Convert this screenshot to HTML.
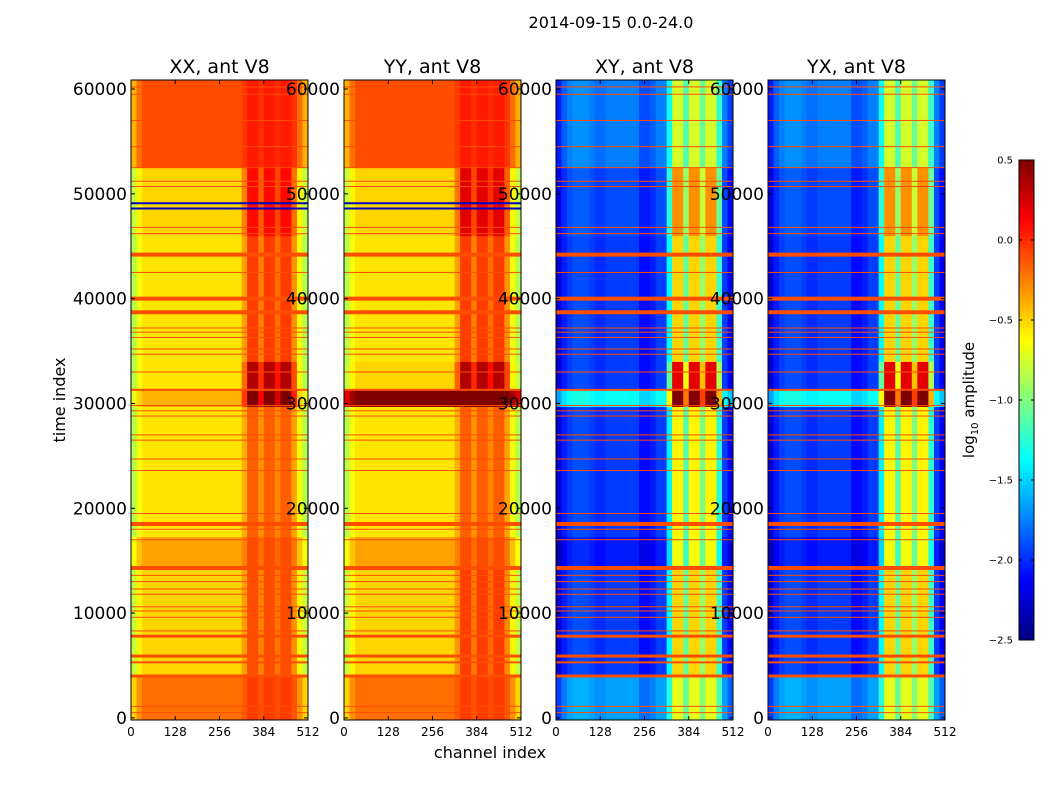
<!DOCTYPE html>
<html><head><meta charset="utf-8">
<style>
html,body{margin:0;padding:0;background:#fff;}
svg{display:block;font-family:"DejaVu Sans","Liberation Sans",sans-serif;}
</style></head>
<body>
<svg id="fig" width="1050" height="800" viewBox="0 0 1050 800" xmlns="http://www.w3.org/2000/svg">
<rect width="1050" height="800" fill="#fff"/>
<text x="611" y="28" font-size="16" text-anchor="middle">2014-09-15 0.0-24.0</text>
<text transform="translate(65,400) rotate(-90)" font-size="16" text-anchor="middle">time index</text>
<text x="490" y="758" font-size="16" text-anchor="middle">channel index</text>
<text transform="translate(974,400) rotate(-90)" font-size="15" text-anchor="middle">log<tspan font-size="10" dy="4">10</tspan><tspan dy="-4"> amplitude</tspan></text>
<g id="panels"></g>
<g id="cbar"></g>
</svg>
<script>
// ---- data ----
const panelTitles = ["XX, ant V8","YY, ant V8","XY, ant V8","YX, ant V8"];
const xTicks = [0,128,256,384,512];
const yTicks = [0,10000,20000,30000,40000,50000,60000];
const cbarTicks = [0.5,0.0,-0.5,-1.0,-1.5,-2.0,-2.5];
// time bands: start, end
const bandStart = [-200,4000,14300,17300,29700,31300,34000,46000,52500];
const bandEnd   = [4000,14300,17300,29700,31300,34000,46000,52500,60860];
// background / hot-band levels per time band for each panel
const xxBg  = [-0.2,-0.5,-0.35,-0.55,-0.4,-0.55,-0.55,-0.5,-0.1];
const xxHot = [-0.05,-0.1,-0.1,-0.15,0.5,0.35,-0.05,0.1,0.05];
const yyBg  = [-0.2,-0.5,-0.35,-0.55,0.5,-0.5,-0.55,-0.5,-0.1];
const yyHot = [-0.05,-0.05,-0.1,-0.15,0.5,0.35,-0.05,0.2,0.05];
const xyBg  = [-1.65,-1.95,-2.05,-1.95,-1.35,-1.95,-1.95,-1.9,-1.75];
const xyHot = [-0.7,-0.5,-0.65,-0.6,0.5,0.2,-0.5,-0.3,-0.75];
// channel hot-mask per 16-channel bin (32 bins)
const hotMask = [0,0,0,0,0,0,0,0,0,0,0,0,0,0,0,0,0,0,0,0,0.4,1,1,0.6,1,1,0.7,1,1,0.5,0,0];
// edge offsets per bin (parallel-hand / cross-hand)
const edgeParallel = [-0.3,-0.1,0,0,0,0,0,0,0,0,0,0,0,0,0,0,0,0,0,0,0,0,0,0,0,0,0,0,0,0,-0.1,-0.3];
const edgeCross    = [-0.3,-0.1,0,0.05,0.05,0.05,0,-0.05,-0.05,0,0,0,0,0,0,-0.15,-0.15,-0.1,0,0,0,0,0,0,0,0,0,0,0,0.05,0,-0.2];
// horizontal flagged rows (time, thickness px)
const lineTimes = [500,1100,4000,5300,5900,7800,8300,9600,10200,10600,11800,12300,13000,13600,14300,17000,18000,18500,19500,23600,24700,26500,27000,28800,29300,29800,31300,33000,34700,35200,36300,36800,37200,38700,40000,42500,44200,46200,46800,50700,51200,52500,54500,57000,59500,60200];
const lineWidth = [1,1,3,2,3,3,1,1,1,1,1,1,1,1,4,1,1,4,1,1,1,1,1,1,1,1,2,1,1,1,1,1,1,4,4,1,4,1,1,1,1,1,1,1,1,1];
const lineLevel = -0.1;
const blueTimes = [48600,49100];

// ---- geometry ----
const panelX = [131,344,556,768];
const pW = 177, pTop = 80, pBot = 720;
const tMin = -200, tMax = 60860;
const cbX = 1019, cbW = 15, cbTop = 160, cbBot = 640, vMin = -2.5, vMax = 0.5;
const NS = "http://www.w3.org/2000/svg";
function yOf(t){ return pBot - (t - tMin) / (tMax - tMin) * (pBot - pTop); }
function xOf(px, c){ return px + c / 512 * pW; }
function jet(v){
  let x = (v - vMin) / (vMax - vMin); x = Math.max(0, Math.min(1, x));
  const f = (a) => Math.max(0, Math.min(1, a));
  const r = f(1.5 - Math.abs(4*x - 3)), g = f(1.5 - Math.abs(4*x - 2)), b = f(1.5 - Math.abs(4*x - 1));
  return `rgb(${Math.round(r*255)},${Math.round(g*255)},${Math.round(b*255)})`;
}
function el(tag, attrs, parent){ const e = document.createElementNS(NS, tag); for (const k in attrs) e.setAttribute(k, attrs[k]); parent.appendChild(e); return e; }

const panels = document.getElementById("panels");
const bgs = [xxBg, yyBg, xyBg, xyBg], hots = [xxHot, yyHot, xyHot, xyHot];
const edges = [edgeParallel, edgeParallel, edgeCross, edgeCross];
panelX.forEach((px, p) => {
  const g = el("g", {}, panels);
  
  
  for (let i = 0; i < bandStart.length; i++) {
    const y1 = yOf(bandEnd[i]), y2 = yOf(bandStart[i]);
    for (let j = 0; j < hotMask.length; j++) {
      const v = bgs[p][i] + (hots[p][i] - bgs[p][i]) * hotMask[j] + edges[p][j] * (1 - hotMask[j]);
      const r = el("rect", {x: xOf(px, j*16).toFixed(2), y: y1.toFixed(2), width: (pW/32 + 0.4).toFixed(2), height: (y2 - y1 + 0.4).toFixed(2), fill: jet(v)}, g);
      
      
    }
  }
  lineTimes.forEach((t, k) => {
    const r = el("rect", {x: px, y: (yOf(t) - lineWidth[k]/2).toFixed(2), width: pW, height: lineWidth[k], fill: jet(lineLevel)}, g);
    
    
  });
  if (p < 2) blueTimes.forEach(t => {
    const r = el("rect", {x: px, y: yOf(t) - 1, width: pW, height: 2, fill: jet(-2.3)}, g);
    
    
  });
  const fr = el("rect", {x: px, y: pTop, width: pW, height: pBot - pTop, fill: "none", stroke: "#000", "stroke-width": 1}, g);
  
  
  const tt = el("text", {x: px + pW/2, y: 73, "font-size": 19, "text-anchor": "middle"}, g);
  tt.textContent = panelTitles[p];
  
  
  xTicks.forEach(c => {
    const x = xOf(px, c);
    el("line", {x1: x, x2: x, y1: pBot, y2: pBot - 4, stroke: "#000"}, g);
    el("line", {x1: x, x2: x, y1: pTop, y2: pTop + 4, stroke: "#000"}, g);
    const t = el("text", {x: x, y: 736, "font-size": 12, "text-anchor": "middle"}, g);
    t.textContent = c;
    
    
  });
  yTicks.forEach(v => {
    const y = yOf(v);
    el("line", {x1: px, x2: px + 4, y1: y, y2: y, stroke: "#000"}, g);
    el("line", {x1: px + pW, x2: px + pW - 4, y1: y, y2: y, stroke: "#000"}, g);
    const t = el("text", {x: px - 4, y: y + 6, "font-size": 17, "text-anchor": "end"}, g);
    t.textContent = v;
    
    
  });
});

// colorbar
const cb = document.getElementById("cbar");


const steps = 120;
for (let i = 0; i < steps; i++) {
  const v = vMin + (i + 0.5) / steps * (vMax - vMin);
  const h = (cbBot - cbTop) / steps;
  el("rect", {x: cbX, y: (cbBot - (i+1)*h).toFixed(2), width: cbW, height: (h + 0.5).toFixed(2), fill: jet(v)}, cb);
}
el("rect", {x: cbX, y: cbTop, width: cbW, height: cbBot - cbTop, fill: "none", stroke: "#000"}, cb);
cbarTicks.forEach(v => {
  const y = cbBot - (v - vMin) / (vMax - vMin) * (cbBot - cbTop);
  el("line", {x1: cbX + cbW - 3, x2: cbX + cbW, y1: y, y2: y, stroke: "#000"}, cb);
  el("line", {x1: cbX, x2: cbX + 3, y1: y, y2: y, stroke: "#000"}, cb);
  const t = el("text", {x: 1013, y: y + 3.5, "font-size": 10, "text-anchor": "end"}, cb);
  t.textContent = (v < 0 ? "\u2212" + Math.abs(v).toFixed(1) : v.toFixed(1));
  
  
});
</script>
</body></html>
